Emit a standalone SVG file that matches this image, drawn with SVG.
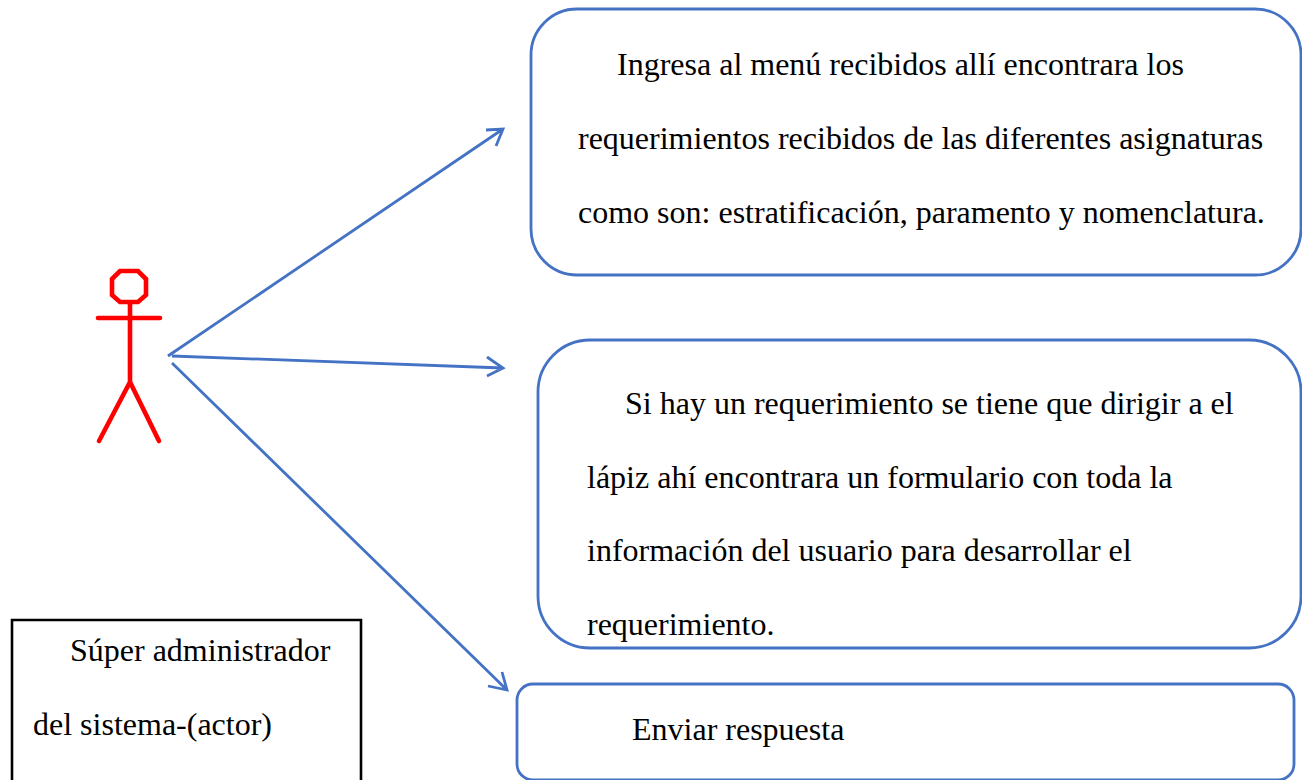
<svg xmlns="http://www.w3.org/2000/svg" width="1302" height="780" viewBox="0 0 1302 780">
<style>
text{font-family:"Liberation Serif","Times New Roman",serif;font-size:32px;fill:#000}
.b{fill:#fff;stroke:#4472c4;stroke-width:2.8}
.c{fill:none;stroke:#4472c4;stroke-width:2.8}
.a{fill:none;stroke:#f00;stroke-width:4.6;stroke-linecap:round;stroke-linejoin:miter}
</style>
<rect width="1302" height="780" fill="#fff"/>
<g id="connectors">
<path class="c" d="M168 356L503 129M486 130L503 129L496 146"/>
<path class="c" d="M172 356L503 368M487 357L503 368L487 376"/>
<path class="c" d="M172 363L507 690M488 686L507 690L502 672"/>
</g>
<g id="actor">
<path class="a" d="M120 271H138L146 279V295L138 302H120L112 295V279Z"/>
<path class="a" d="M130 303V382M98 318H160M130 382L99 441M130 382L159 441"/>
</g>
<g id="node1">
<rect class="b" x="531" y="9" width="770" height="266" rx="46"/>
<text x="617" y="75">Ingresa al menú recibidos allí encontrara los</text>
<text x="578" y="149">requerimientos recibidos de las diferentes asignaturas</text>
<text x="578" y="223">como son: estratificación, paramento y nomenclatura.</text>
</g>
<g id="node2">
<rect class="b" x="538" y="340" width="763" height="308" rx="52"/>
<text x="625" y="414">Si hay un requerimiento se tiene que dirigir a el</text>
<text x="587" y="488">lápiz ahí encontrara un formulario con toda la</text>
<text x="587" y="561">información del usuario para desarrollar el</text>
<text x="587" y="635">requerimiento.</text>
</g>
<g id="node3">
<rect class="b" x="517" y="684" width="777" height="96" rx="16"/>
<text x="632" y="740">Enviar respuesta</text>
</g>
<g id="legend">
<path d="M12 781V620H361V781" fill="#fff" stroke="#000" stroke-width="2.6"/>
<text x="70" y="661">Súper administrador</text>
<text x="33" y="735">del sistema-(actor)</text>
</g>
</svg>
